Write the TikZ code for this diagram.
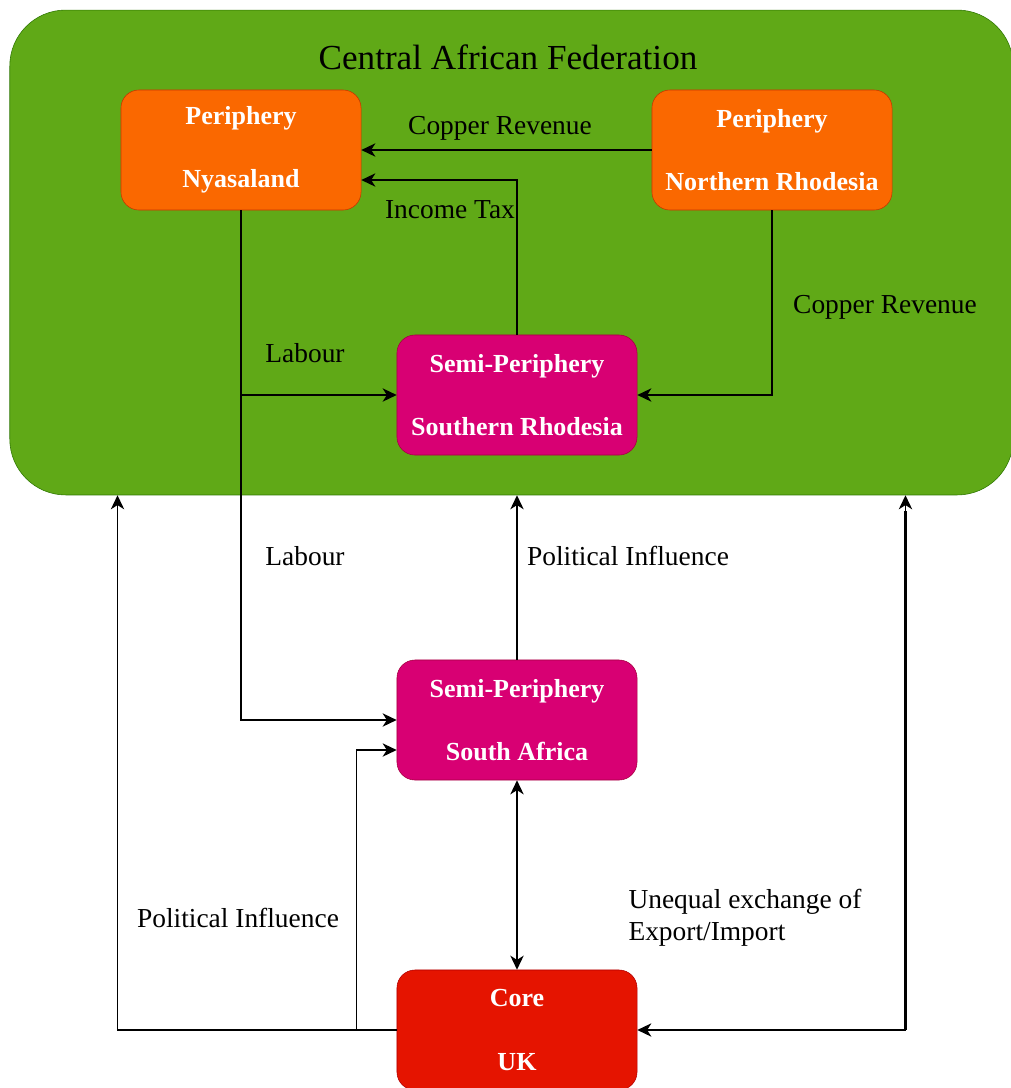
\documentclass[tikz,border=0pt]{standalone}
\usepackage{fontspec}
\usetikzlibrary{arrows.meta}
\setmainfont{Liberation Serif}
\definecolor{fedfill}{HTML}{60A917}
\definecolor{fedline}{HTML}{2D7600}
\definecolor{perfill}{HTML}{FA6800}
\definecolor{perline}{HTML}{C73500}
\definecolor{semfill}{HTML}{D80073}
\definecolor{semline}{HTML}{A50040}
\definecolor{corfill}{HTML}{E51400}
\definecolor{corline}{HTML}{B20000}
\begin{document}
\begin{tikzpicture}[>={Stealth[length=10pt,width=9.5pt,inset=3pt]},x=0.025cm,y=-0.025cm,
  box/.style={rounded corners=0.45cm,minimum width=6cm,minimum height=3cm,
    text=white,align=center,font=\fontsize{18.5}{45}\selectfont\bfseries},
  periph/.style={box,fill=perfill,draw=perline},
  semiper/.style={box,fill=semfill,draw=semline},
  corebox/.style={box,fill=corfill,draw=corline},
  lbl/.style={align=left,font=\fontsize{19.5}{22.7}\selectfont},
  flow/.style={->,line width=1pt}]
 \useasboundingbox (0,0) rectangle (1011,1088);
 % federation
 \begin{scope}
  \node[fill=fedfill,draw=fedline,rounded corners=1.4cm,minimum width=25.08cm,
        minimum height=12.12cm] (caf) at (511.5,252.5) {};
  \node[font=\fontsize{25}{30}\selectfont] (caftitle) at (508,57) {Central African Federation};
  \node[periph] (nyasa) at (241,150) {Periphery\\Nyasaland};
  \node[periph] (nrhod) at (772,150) {Periphery\\Northern Rhodesia};
  \node[semiper] (srhod) at (517,395) {Semi-Periphery\\Southern Rhodesia};
 \end{scope}
 \node[semiper] (safr) at (517,720) {Semi-Periphery\\South Africa};
 \node[corebox] (uk) at (517,1030) {Core\\UK};
 % flows
 \draw[flow] (nrhod.west) -- (nyasa.east);
 \draw[flow] (srhod.north) |- ([yshift=-0.75cm]nyasa.east);
 \draw[flow] (nrhod.south) |- (srhod.east);
 \draw[flow] (nyasa.south) |- (safr.west);
 \coordinate (split) at (nyasa.south |- srhod.west);
 \draw[flow] (split) -- (srhod.west);
 \draw[flow] (safr.north) -- (safr.north |- caf.south);
 \draw[<->,line width=1pt] (safr.south) -- (uk.north);
 \draw[flow] (uk.west) -| ([xshift=2.7cm]caf.south west);
 \draw[flow] (uk.west) -- ++(-40,0) |- ([yshift=-0.75cm]safr.west);
 \draw[<->,line width=1pt] (uk.east) -| ([xshift=-2.7cm]caf.south east);
 \draw[line width=1.6pt] ([xshift=-2.7cm,yshift=-0.4cm]caf.south east) -- ([xshift=-2.7cm]caf.south east |- uk.east);
 % labels
 \node[lbl] (lcopper) at (500,128) {Copper Revenue};
 \node[lbl] (ltax) at (450,210) {Income Tax};
 \node[lbl] (lcopper2) at (885,307) {Copper Revenue};
 \node[lbl] (llab) at (305,353) {Labour};
 \node[lbl] (llab2) at (305,556) {Labour};
 \node[lbl] (lpol) at (628,556) {Political Influence};
 \node[lbl] (lpol2) at (238,918) {Political Influence};
 \node[lbl] (lexch) at (745,918) {Unequal exchange of\\Export/Import};
\end{tikzpicture}
\end{document}
